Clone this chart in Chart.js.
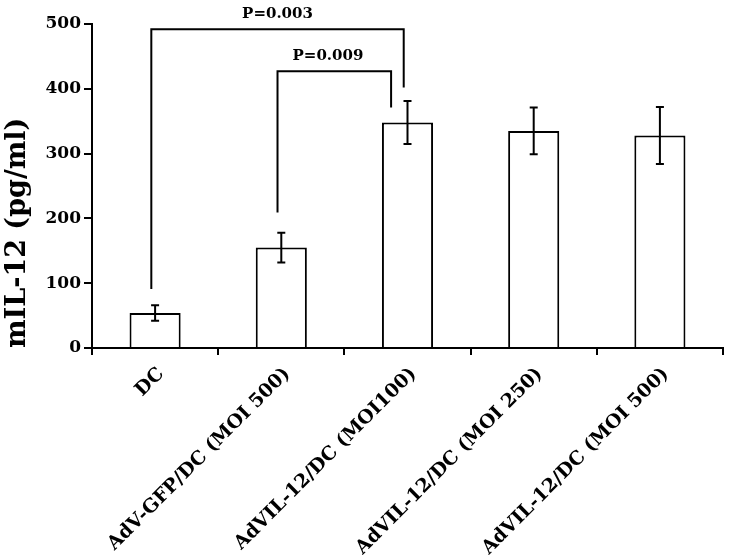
<!DOCTYPE html>
<html>
<head>
<meta charset="utf-8">
<script src="https://cdn.jsdelivr.net/npm/chart.js@4"></script>
<style>
  html, body { margin: 0; padding: 0; background: #fff; }
  #wrap { width: 730px; height: 559px; }
</style>
</head>
<body>
<div id="wrap"><canvas id="barChart"></canvas></div>
<script>
// Data ------------------------------------------------------------------------
const groups = ['DC', 'AdV-GFP/DC (MOI 500)', 'AdVIL-12/DC (MOI100)',
  'AdVIL-12/DC (MOI 250)', 'AdVIL-12/DC (MOI 500)'];
const means = [54, 155, 348, 335, 328];
const errors = [12, 23, 33, 36, 44];

// significance brackets: [x left, bottom left, top, x right, bottom right]
const bracketOuter = [-0.03, 91, 492, 1.97, 402];
const bracketInner = [0.97, 209, 427, 1.87, 371];
const pLabels = ['P=0.003', 'P=0.009'];
const pLabelPos = [[0.97, 515], [1.37, 451]];

const serif = 'DejaVu Serif';

function bracketPoints(b) {
  return [
    { x: b[0], y: b[1] },
    { x: b[0], y: b[2] },
    { x: b[3], y: b[2] },
    { x: b[3], y: b[4] }
  ];
}

// Error bars + p-value text -----------------------------------------------------
const errorBarPlugin = {
  id: 'errorBars',
  afterDatasetsDraw(chart) {
    const ctx = chart.ctx;
    const y = chart.scales.y;
    const meta = chart.getDatasetMeta(0);
    ctx.save();
    ctx.strokeStyle = '#000';
    ctx.lineWidth = 2;
    for (let i = 0; i < meta.data.length; i++) {
      const x = meta.data[i].x;
      const top = y.getPixelForValue(means[i] + errors[i]);
      const bottom = y.getPixelForValue(means[i] - errors[i]);
      ctx.beginPath();
      ctx.moveTo(x, top);
      ctx.lineTo(x, bottom);
      ctx.moveTo(x - 4, top);
      ctx.lineTo(x + 4, top);
      ctx.moveTo(x - 4, bottom);
      ctx.lineTo(x + 4, bottom);
      ctx.stroke();
    }
    ctx.restore();
  },
  afterDraw(chart) {
    const ctx = chart.ctx;
    const xl = chart.scales.xLin;
    const y = chart.scales.y;
    ctx.save();
    ctx.fillStyle = '#000';
    ctx.font = 'bold 15px "' + serif + '"';
    ctx.textAlign = 'center';
    ctx.textBaseline = 'middle';
    for (let i = 0; i < pLabels.length; i++) {
      ctx.fillText(pLabels[i], xl.getPixelForValue(pLabelPos[i][0]),
        y.getPixelForValue(pLabelPos[i][1]));
    }
    ctx.restore();
  }
};

// Chart -------------------------------------------------------------------------
new Chart(document.getElementById('barChart'), {
  type: 'bar',
  plugins: [errorBarPlugin],
  data: {
    labels: groups,
    datasets: [{
      label: 'mIL-12',
      data: means,
      backgroundColor: '#fff',
      borderColor: '#000',
      borderWidth: 2,
      grouped: false,
      barPercentage: 0.405,
      categoryPercentage: 1
    }, {
      type: 'line',
      label: 'P=0.003',
      xAxisID: 'xLin',
      data: bracketPoints(bracketOuter),
      borderColor: '#000',
      borderWidth: 2,
      pointRadius: 0,
      fill: false,
      tension: 0
    }, {
      type: 'line',
      label: 'P=0.009',
      xAxisID: 'xLin',
      data: bracketPoints(bracketInner),
      borderColor: '#000',
      borderWidth: 2,
      pointRadius: 0,
      fill: false,
      tension: 0
    }]
  },
  options: {
    responsive: true,
    maintainAspectRatio: false,
    animation: false,
    layout: { padding: { top: 24, right: 7, left: 0, bottom: 0 } },
    plugins: {
      legend: { display: false },
      tooltip: { enabled: false }
    },
    scales: {
      x: {
        offset: true,
        grid: { display: true, drawOnChartArea: false, offset: true, color: '#000', lineWidth: 2, tickLength: 7 },
        border: { color: '#000', width: 2 },
        ticks: {
          color: '#000',
          font: { family: serif, weight: 'bold', size: 19 },
          minRotation: 45,
          maxRotation: 45,
          labelOffset: 6,
          padding: 8
        },
        afterFit(scale) { scale.height = 211; }
      },
      xLin: {
        type: 'linear',
        display: false,
        offset: false,
        grid: { offset: false },
        min: -0.5,
        max: 4.5
      },
      y: {
        min: 0,
        max: 500,
        ticks: {
          stepSize: 100,
          color: '#000',
          font: { family: serif, weight: 'bold', size: 17 },
          padding: 3
        },
        grid: { drawOnChartArea: false, color: '#000', lineWidth: 2, tickLength: 8 },
        border: { color: '#000', width: 2 },
        title: {
          display: true,
          text: 'mIL-12 (pg/ml)',
          align: 'start',
          color: '#000',
          font: { family: serif, weight: 'bold', size: 27 },
          padding: 2
        },
        afterFit(scale) { scale.width = 92; }
      }
    }
  }
});
</script>
</body>
</html>
